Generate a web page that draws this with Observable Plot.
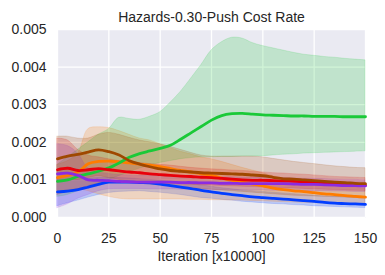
<!DOCTYPE html>
<html><head><meta charset="utf-8">
<script src="https://cdn.jsdelivr.net/npm/d3@7"></script>
<script src="https://cdn.jsdelivr.net/npm/@observablehq/plot@0.6"></script>
<style>body{margin:0;background:#fff;} svg{display:block}</style>
</head><body><div id="chart"></div>
<script>
const titleText = "Hazards-0.30-Push Cost Rate";
const xLabel = "Iteration [x10000]";
const xTicks = [0, 25, 50, 75, 100, 125, 150];
const yTicks = [0, 0.001, 0.002, 0.003, 0.004, 0.005];
const iterations = [0,5,10,15,20,25,30,35,40,45,50,55,60,65,70,75,80,85,90,95,100,105,110,115,120,125,130,135,140,145,150];

const blueMean = [.00068,.00070,.00074,.00081,.00088,.00094,.00094,.00094,.00093,.00092,.00089,.00085,.00081,.00077,.00072,.00068,.00064,.00061,.00058,.00055,.00053,.00051,.00049,.00047,.00045,.00043,.00040,.00038,.00037,.00036,.00035];
const blueLo = [.00030,.00038,.00045,.00053,.00060,.00065,.00068,.00069,.00070,.00068,.00066,.00063,.00060,.00056,.00052,.00050,.00047,.00045,.00042,.00040,.00038,.00036,.00035,.00033,.00032,.00030,.00029,.00028,.00027,.00026,.00025];
const blueHi = [.00100,.00100,.00100,.00103,.00105,.00105,.00105,.00104,.00102,.00100,.00098,.00095,.00092,.00089,.00085,.00082,.00078,.00075,.00072,.00070,.00068,.00066,.00064,.00062,.00060,.00058,.00056,.00055,.00054,.00053,.00052];

const orangeMean = [.00106,.00112,.00121,.00143,.00149,.00150,.00148,.00145,.00142,.00139,.00135,.00130,.00125,.00121,.00116,.00112,.00105,.00099,.00094,.00089,.00084,.00078,.00074,.00071,.00069,.00066,.00063,.00061,.00058,.00056,.00054];
const orangeLo = [.00070,.00072,.00075,.00070,.00062,.00055,.00050,.00048,.00048,.00048,.00048,.00048,.00048,.00047,.00047,.00046,.00046,.00045,.00045,.00044,.00043,.00042,.00041,.00040,.00039,.00038,.00037,.00036,.00035,.00034,.00033];
const orangeHi = [.00140,.00150,.00170,.00235,.00240,.00238,.00230,.00220,.00210,.00205,.00195,.00185,.00175,.00168,.00160,.00155,.00148,.00140,.00132,.00125,.00118,.00110,.00104,.00100,.00096,.00092,.00088,.00085,.00082,.00079,.00076];

const greenMean = [.00096,.00100,.00109,.00116,.00123,.00132,.00145,.00160,.00170,.00177,.00184,.00192,.00208,.00225,.00242,.00259,.00271,.00276,.00277,.00275,.00273,.00272,.00271,.00270,.00270,.00269,.00269,.00269,.00268,.00268,.00268];
const greenLo = [.00055,.00060,.00070,.00080,.00090,.00100,.00110,.00120,.00130,.00138,.00145,.00150,.00155,.00158,.00160,.00160,.00161,.00161,.00162,.00162,.00163,.00165,.00167,.00168,.00170,.00171,.00172,.00173,.00174,.00175,.00176];
const greenHi = [.00140,.00160,.00180,.00200,.00220,.00235,.00265,.00262,.00260,.00268,.00280,.00305,.00334,.00369,.00405,.00444,.00466,.00478,.00476,.00464,.00456,.00450,.00444,.00438,.00433,.00430,.00427,.00425,.00422,.00420,.00418];

const redMean = [.00127,.00131,.00125,.00127,.00130,.00127,.00124,.00121,.00119,.00116,.00114,.00112,.00110,.00109,.00107,.00106,.00104,.00102,.00100,.00099,.00099,.00098,.00097,.00096,.00095,.00094,.00093,.00091,.00090,.00088,.00086];
const redLo = [.00060,.00068,.00075,.00083,.00090,.00093,.00095,.00094,.00093,.00092,.00090,.00089,.00088,.00087,.00086,.00085,.00084,.00083,.00082,.00081,.00080,.00079,.00078,.00077,.00076,.00075,.00074,.00073,.00072,.00071,.00070];
const redHi = [.00210,.00205,.00180,.00165,.00160,.00155,.00150,.00148,.00145,.00142,.00140,.00138,.00135,.00132,.00130,.00128,.00127,.00125,.00124,.00122,.00120,.00118,.00117,.00115,.00114,.00112,.00110,.00108,.00107,.00106,.00105];

const purpleMean = [.00116,.00118,.00112,.00100,.00099,.00098,.00096,.00095,.00094,.00094,.00094,.00094,.00093,.00093,.00092,.00092,.00091,.00091,.00090,.00090,.00090,.00090,.00090,.00089,.00088,.00088,.00087,.00086,.00085,.00085,.00084];
const purpleLo = [.00025,.00035,.00050,.00060,.00070,.00075,.00076,.00076,.00076,.00075,.00075,.00075,.00074,.00074,.00074,.00073,.00073,.00073,.00072,.00072,.00072,.00071,.00071,.00071,.00070,.00070,.00070,.00069,.00069,.00068,.00068];
const purpleHi = [.00195,.00190,.00170,.00130,.00120,.00116,.00113,.00112,.00111,.00111,.00110,.00110,.00109,.00109,.00108,.00108,.00107,.00107,.00106,.00106,.00106,.00105,.00105,.00104,.00103,.00103,.00102,.00101,.00100,.00100,.00099];

const brownMean = [.00156,.00163,.00168,.00174,.00180,.00175,.00166,.00151,.00142,.00135,.00129,.00125,.00123,.00121,.00119,.00118,.00117,.00116,.00115,.00113,.00111,.00107,.00103,.00102,.00100,.00098,.00096,.00094,.00093,.00091,.00090];
const brownLo = [.00095,.00100,.00100,.00105,.00110,.00105,.00100,.00095,.00090,.00088,.00085,.00083,.00080,.00078,.00076,.00074,.00072,.00070,.00068,.00066,.00064,.00062,.00060,.00058,.00057,.00056,.00055,.00054,.00053,.00052,.00051];
const brownHi = [.00215,.00215,.00210,.00210,.00220,.00225,.00220,.00212,.00205,.00200,.00195,.00188,.00180,.00172,.00165,.00162,.00162,.00162,.00162,.00162,.00160,.00156,.00152,.00148,.00145,.00142,.00139,.00136,.00134,.00132,.00131];

const seriesNames = ["Run 1", "Run 2", "Run 3", "Run 4", "Run 5", "Run 6"];
const seriesColors = ["#023eff", "#ff7c00", "#1ac938", "#e8000b", "#8b2be2", "#9f4800"];
const seriesData = [
  [blueMean, blueLo, blueHi],
  [orangeMean, orangeLo, orangeHi],
  [greenMean, greenLo, greenHi],
  [redMean, redLo, redHi],
  [purpleMean, purpleLo, purpleHi],
  [brownMean, brownLo, brownHi]
];

const rows = [];
seriesNames.forEach((name, s) => {
  const [m, lo, hi] = seriesData[s];
  iterations.forEach((it, i) => rows.push({series: name, it, mean: m[i], lo: lo[i], hi: hi[i]}));
});

const chart = Plot.plot({
  width: 385, height: 275,
  marginLeft: 57, marginRight: 20, marginTop: 29, marginBottom: 58,
  style: {fontFamily: "'Liberation Sans', Arial, sans-serif", background: "white", color: "#262626"},
  x: {domain: [0, 150], label: null},
  y: {domain: [0, 0.005], label: null},
  color: {type: "ordinal", domain: seriesNames, range: seriesColors},
  marks: [
    Plot.frame({fill: "#eaeaf2", stroke: null}),
    Plot.gridX(xTicks, {stroke: "white", strokeOpacity: 1, strokeWidth: 1.3}),
    Plot.gridY(yTicks, {stroke: "white", strokeOpacity: 1, strokeWidth: 1.3}),
    Plot.areaY(rows, {x: "it", y1: "lo", y2: "hi", z: "series", fill: "series", fillOpacity: 0.2, stroke: "series", strokeOpacity: 0.15, strokeWidth: 1, curve: "catmull-rom"}),
    Plot.lineY(rows, {x: "it", y: "mean", z: "series", stroke: "series", strokeWidth: 2.8, curve: "catmull-rom"}),
    Plot.axisX({ticks: xTicks, tickSize: 0, tickPadding: 16, fontSize: 14, label: null}),
    Plot.axisY({ticks: yTicks, tickSize: 0, tickPadding: 11, fontSize: 14, tickFormat: d3.format(".3f"), label: null}),
    Plot.text([titleText], {text: d => d, frameAnchor: "top", dy: -17, fontSize: 14}),
    Plot.text([xLabel], {text: d => d, frameAnchor: "bottom", dy: 43, fontSize: 14})
  ]
});
document.getElementById("chart").appendChild(chart);
</script>
</body></html>
